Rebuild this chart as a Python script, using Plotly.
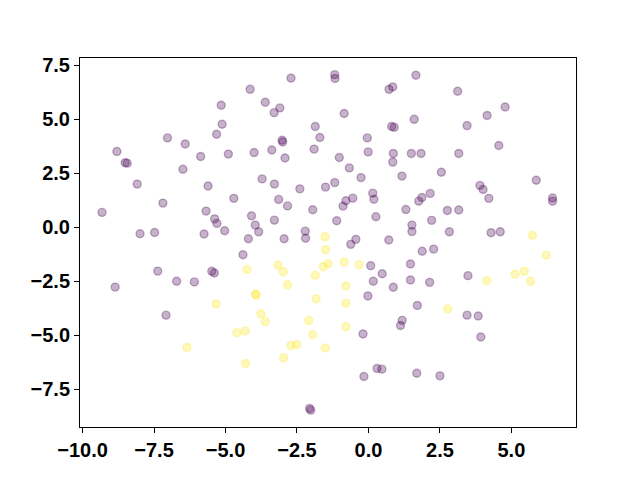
import plotly.graph_objects as go

# class 0 (dark purple) points
x0 = [-4.14, -5.15, -5.12, -5.31, -7.03, -6.41, -8.80, -8.51, -8.44, -5.87, -4.90, -6.49, -8.09, -5.61,
      -2.71, -1.18, -1.17, 0.72, 0.85, -3.61, -3.10, -3.30, -0.85, -1.86, 0.81, 0.90, -1.70, -0.04,
      -3.02, -3.00, -4.00, -3.38, -2.92, -1.90, -1.02, -0.01, 0.87, 0.85, 1.50, 1.84, -0.67, -0.26,
      1.17, -3.72, -3.29, -2.40, -1.50, -1.18, 1.66, 3.12, 4.78, 4.15, 1.60, 3.45, 4.56, 3.16, 2.55,
      5.87, 3.90, 4.01, -4.71, -7.19, -9.32, -5.68, -5.38, -5.30, -5.03, -4.09, -7.99, -7.48, -5.75,
      -4.20, -4.39, -7.37, -5.48, -5.39, -6.71, -6.09, -8.86, -3.14, -2.83, -1.95, -0.89, -0.79, -0.55,
      0.15, 0.19, 1.31, -3.29, -1.11, 0.26, -3.96, -3.84, -2.95, -2.21, -2.20, 1.52, 1.52, -0.44,
      -0.62, 0.71, 0.08, 1.47, 0.48, 0.17, 0.87, -0.02, 1.47, 2.16, 1.87, 1.76, 4.21, 6.44, 6.44,
      2.76, 3.16, 2.21, 2.83, 4.29, 4.61, 2.28, 1.88, 2.14, 3.48, 1.71, -7.08, 1.18, 1.12, -0.19,
      0.30, 0.47, -0.16, -2.06, -2.02, 3.45, 3.84, 3.93, 1.69, 2.50]
y0 = [6.39, 5.65, 4.77, 4.31, 4.14, 3.86, 3.51, 2.99, 2.97, 3.28, 3.39, 2.69, 2.00, 1.91,
      6.91, 7.07, 6.89, 6.39, 6.50, 5.79, 5.53, 5.31, 5.27, 4.67, 4.67, 4.63, 4.16, 4.14,
      4.03, 3.95, 3.46, 3.58, 3.21, 3.62, 3.23, 3.49, 3.42, 3.02, 3.42, 3.42, 2.75, 2.30,
      2.37, 2.24, 2.00, 1.78, 1.86, 2.07, 7.04, 6.30, 5.57, 5.18, 5.00, 4.71, 3.79, 3.42, 2.55,
      2.18, 1.94, 1.75, 1.34, 1.12, 0.69, 0.75, 0.39, 0.18, -0.16, 0.53, -0.30, -0.24, -0.31,
      -0.53, -1.27, -2.03, -2.04, -2.12, -2.50, -2.53, -2.77, 1.29, 0.99, 0.81, 0.98, 1.23, 1.35,
      1.58, 1.30, 0.82, 0.33, 0.30, 0.49, 0.10, -0.21, -0.53, -0.18, -0.51, 0.10, -0.20, -0.56,
      -0.79, -0.59, -1.78, -1.70, -2.15, -2.50, -2.78, -3.18, -2.44, 1.57, 1.38, 1.21, 1.34, 1.36, 1.21,
      0.78, 0.80, 0.32, -0.21, -0.25, -0.21, -1.01, -1.11, -2.55, -2.24, -3.62, -4.07, -4.31, -4.55, -4.94,
      -6.54, -6.57, -6.91, -8.39, -8.47, -4.07, -4.11, -5.08, -6.76, -6.88]

# class 1 (yellow) points
x1 = [-1.52, -1.50, -4.25, -3.16, -2.98, -1.41, -1.58, -0.85, -0.33, -1.86, -2.83, -0.79, -3.95, -3.93,
      -1.83, -0.79, -5.33, -4.60, -4.31, -6.35, -4.30, -3.76, -3.61, -2.09, -0.79, -1.95, -2.71, -2.51,
      -1.51, -2.97, 5.74, 6.22, 4.14, 5.13, 5.45, 5.67, 2.77]
y1 = [-0.44, -1.04, -1.95, -1.75, -2.06, -1.69, -1.83, -1.61, -1.73, -2.22, -2.66, -2.72, -3.09, -3.14,
      -3.31, -3.52, -3.55, -4.88, -4.80, -5.56, -6.31, -4.01, -4.37, -4.32, -4.60, -4.97, -5.48, -5.43,
      -5.59, -6.04, -0.37, -1.29, -2.47, -2.18, -2.04, -2.50, -3.78]

x_ticks = [-10.0, -7.5, -5.0, -2.5, 0.0, 2.5, 5.0]
y_ticks = [-7.5, -5.0, -2.5, 0.0, 2.5, 5.0, 7.5]


def lab(v):
    s = f"{abs(v):.1f}"
    return ("\u2212" + s) if v < 0 else s


fig = go.Figure()
for xs, ys, rgb in [(x0, y0, "68,1,84"), (x1, y1, "253,231,37")]:
    fig.add_trace(go.Scatter(
        x=xs, y=ys, mode="markers",
        marker=dict(size=8, color=f"rgba({rgb},0.3)",
                    line=dict(color=f"rgba({rgb},0.3)", width=1.4)),
        showlegend=False, hoverinfo="skip"))

axis_common = dict(showgrid=False, zeroline=False, showline=True, linecolor="black",
                   linewidth=1, mirror=True, ticks="outside", ticklen=5, tickwidth=1,
                   tickcolor="black",
                   tickfont=dict(family="Liberation Sans", size=20, color="black", weight="bold"))

fig.update_xaxes(range=[-10.09, 7.26], tickvals=x_ticks, ticktext=[lab(v) for v in x_ticks],
                 automargin=False, **axis_common)
fig.update_yaxes(range=[-9.25, 7.84], tickvals=y_ticks, ticktext=[lab(v) for v in y_ticks],
                 automargin=False, **axis_common)

# the page body has an 8px default margin, so the margins are shifted to compensate
fig.update_layout(width=640, height=480, margin=dict(l=72, r=72, t=50, b=61),
                  paper_bgcolor="white", plot_bgcolor="white")

fig.write_html("out.html")
